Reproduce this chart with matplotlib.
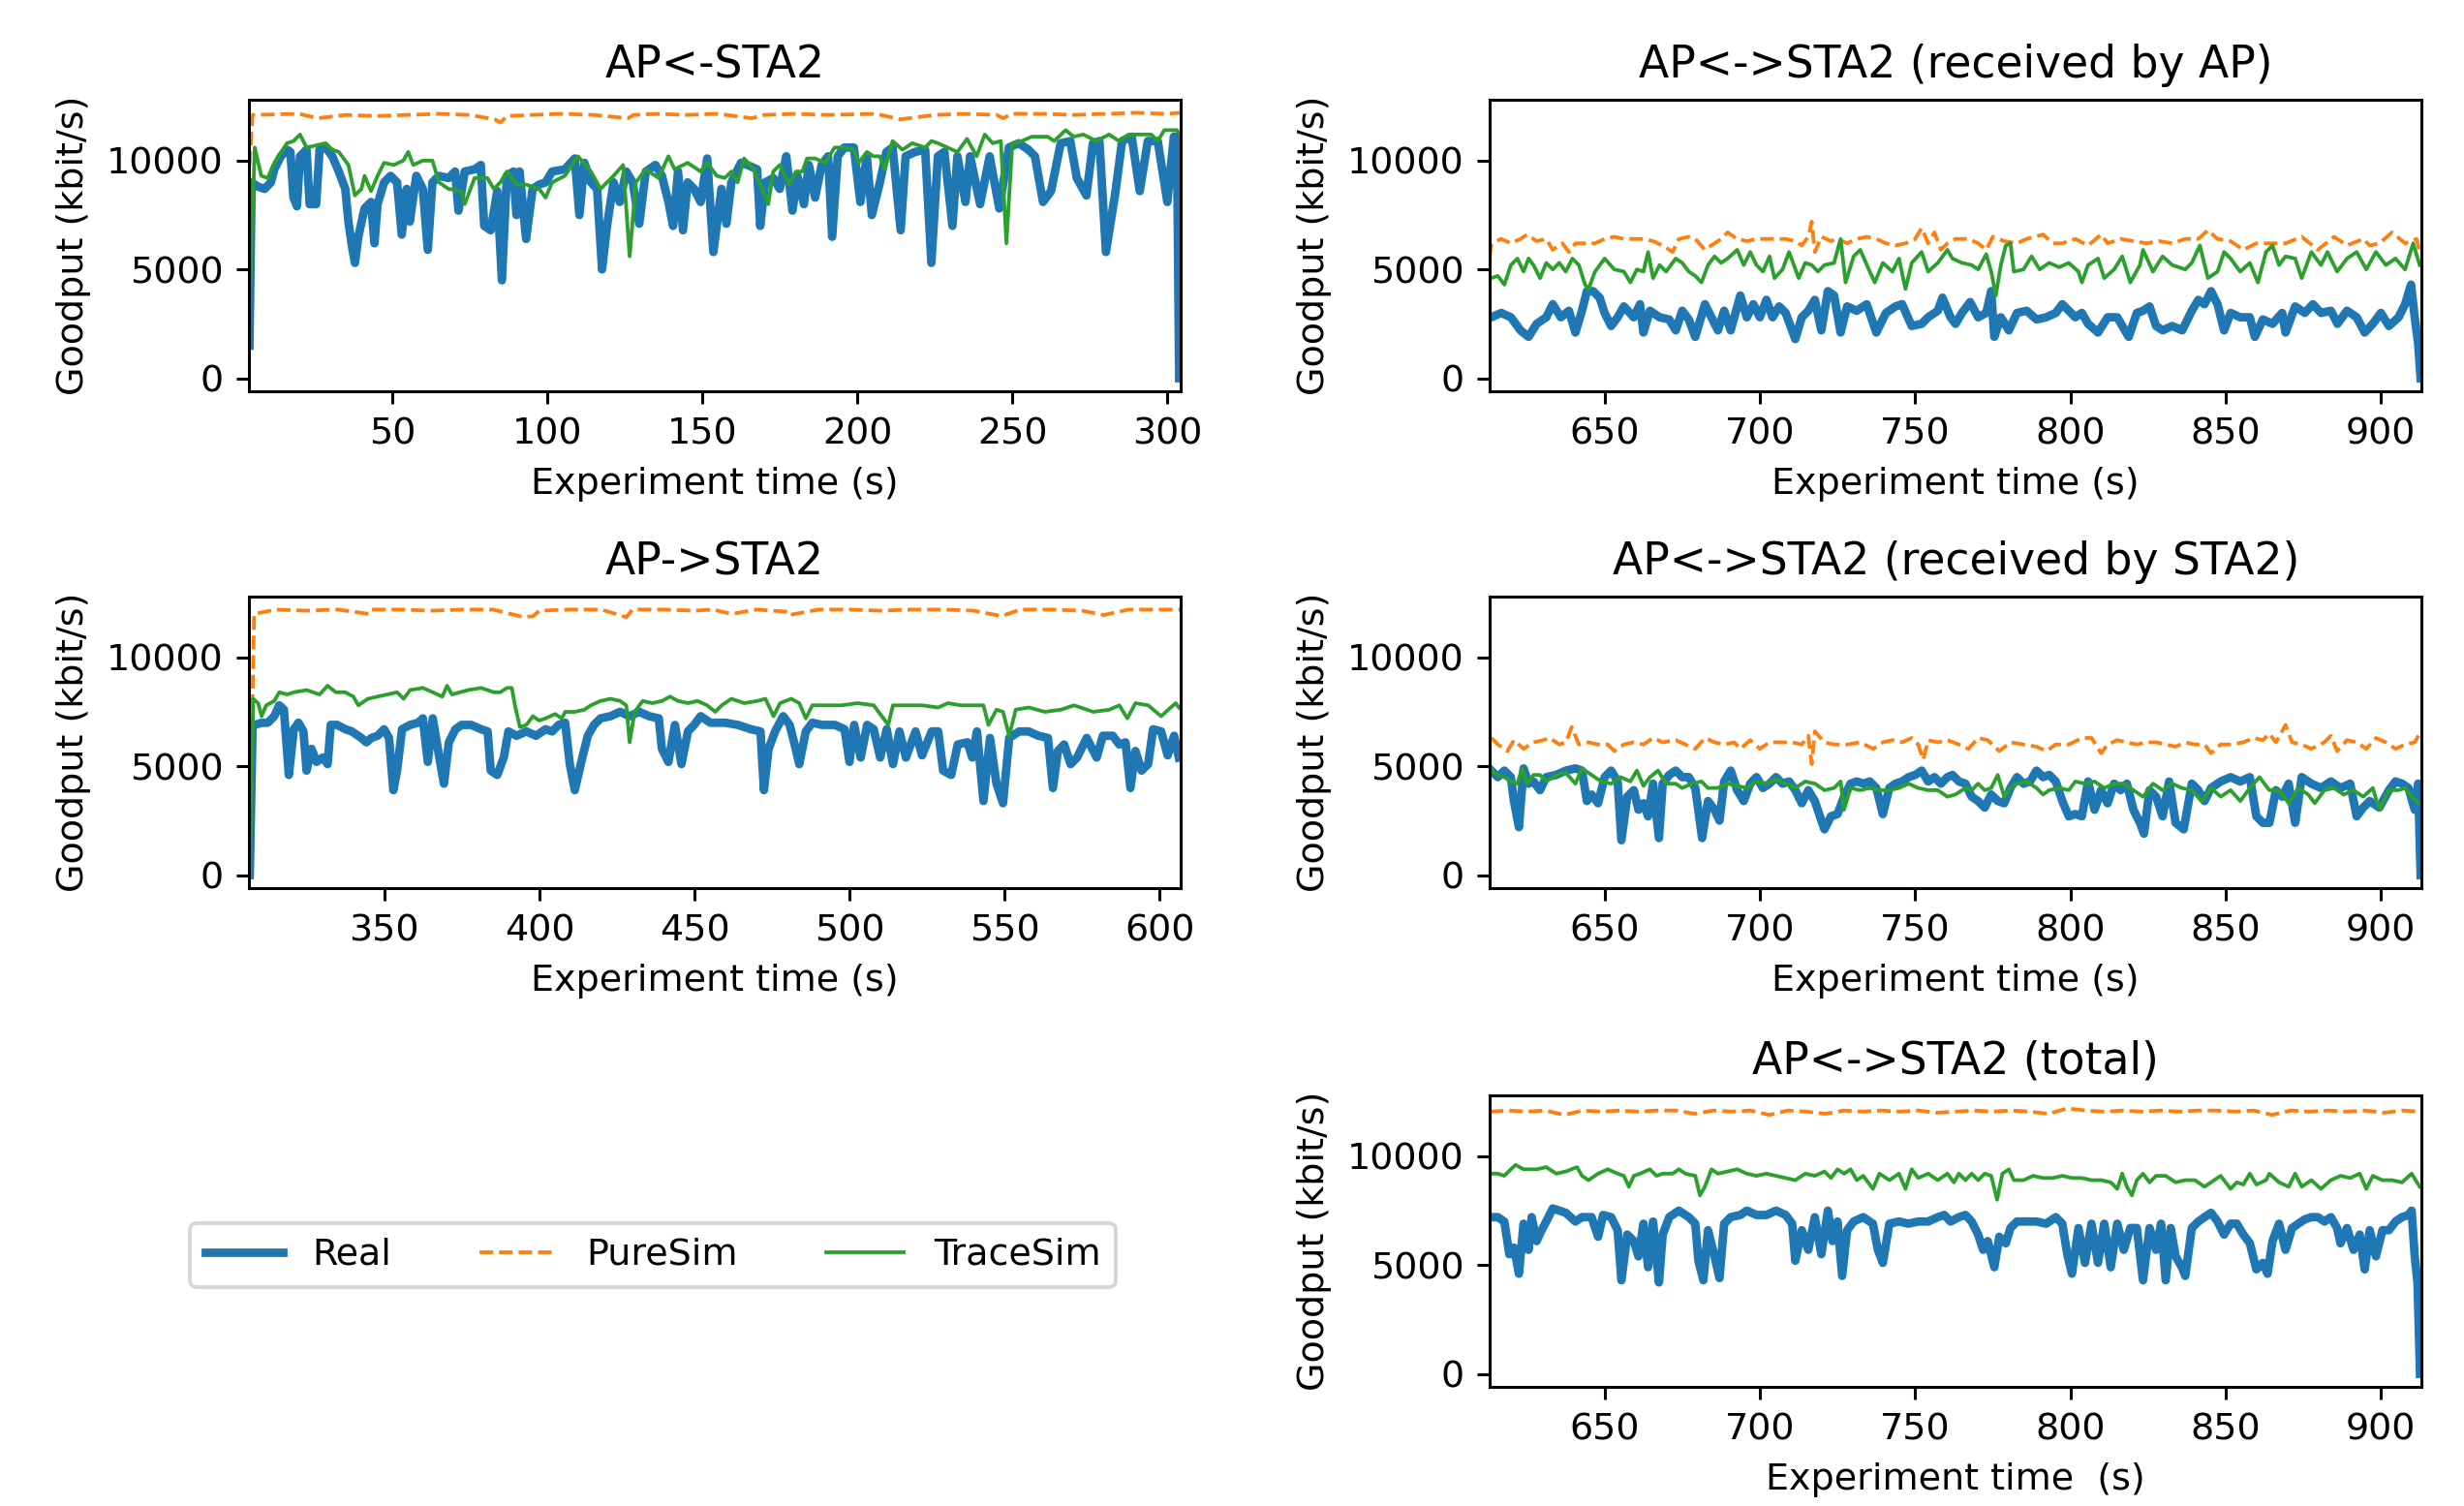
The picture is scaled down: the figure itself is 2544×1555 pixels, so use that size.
import matplotlib
matplotlib.use("Agg")
import matplotlib.pyplot as plt

# ---------------- data ----------------
# Panel 1: AP<-STA2
p1_real_t = [4.0, 4.7, 6.8, 8.9, 10.9, 12.0, 14.1, 16.1, 17.2, 18.2, 19.3, 20.3, 22.4, 23.4, 25.5, 26.6, 28.6, 30.7, 32.8,
             34.9, 35.9, 37.0, 38.0, 39.1, 41.1, 43.2, 44.3, 45.3, 47.4, 49.5, 51.6, 53.1, 54.7, 55.7, 57.8, 59.9, 61.5,
             63.0, 65.1, 68.2, 70.3, 71.4, 73.4, 76.6, 78.6, 79.7, 81.8, 83.9, 85.4, 87.0, 89.1, 90.1, 91.1, 93.2, 95.3,
             97.4, 99.5, 101.6, 105.7, 108.9, 110.4, 112.0, 114.1, 116.1, 117.7, 119.3, 121.4, 123.4, 125.5, 127.6, 129.7,
             131.8, 134.9, 137.0, 139.1, 140.6, 142.2, 143.8, 145.3, 147.4, 149.5, 151.6, 153.6, 156.2, 157.8, 159.4,
             162.5, 164.6, 167.7, 168.7, 170.3, 172.9, 175.0, 177.1, 179.1, 180.7, 182.8, 184.4, 186.4, 188.5, 190.6,
             191.9, 193.7, 195.8, 198.9, 201.0, 203.1, 204.7, 207.3, 209.4, 211.4, 214.0, 215.6, 218.7, 221.9, 223.9,
             226.0, 228.1, 230.7, 232.3, 234.9, 236.4, 239.6, 242.7, 245.8, 248.9, 252.1, 255.2, 257.3, 259.9, 262.5,
             265.6, 268.7, 270.8, 273.9, 276.0, 278.1, 280.2, 283.3, 285.4, 288.5, 291.1, 293.7, 296.9, 300.0, 302.1,
             303.1, 303.8]
p1_real_v = [1500, 9000, 8800, 8700, 9000, 9600, 10200, 10500, 10400, 8300, 7900, 10200, 10500, 8000, 8000, 10500, 10600,
             10200, 9500, 8700, 7200, 6100, 5300, 6500, 7800, 8100, 6200, 8000, 9000, 9300, 9000, 6600, 8700, 7200, 9300,
             8700, 5900, 9000, 9300, 9200, 9500, 7700, 9500, 9600, 9800, 7000, 6800, 8600, 4500, 9300, 9500, 7500, 9500,
             6400, 8700, 8900, 9000, 9500, 9600, 10100, 7500, 9900, 9000, 8700, 5000, 7000, 9000, 8100, 9500, 9000, 7100,
             9500, 9800, 9300, 8100, 7000, 9500, 6800, 9000, 8700, 8100, 10100, 5800, 8700, 7100, 9000, 9900, 9800, 9600,
             7000, 9000, 9200, 8700, 10200, 7700, 9300, 8000, 9800, 8300, 9800, 10200, 6500, 10200, 10600, 10600, 8100,
             10200, 7500, 9000, 10400, 10600, 6800, 10200, 10400, 10500, 5300, 10200, 10400, 7000, 10200, 8100, 10200,
             8000, 10200, 7800, 10600, 10800, 10500, 10200, 8100, 8600, 10800, 10900, 9200, 8400, 10800, 10900, 5800,
             8600, 10900, 11100, 8600, 10900, 10900, 8100, 11100, 11100, 0]

p1_pure_t = [4.0, 5.0, 20, 26, 35, 45, 55, 65, 75, 83, 85, 87, 95, 105, 115, 126, 128, 135, 145, 155, 166, 170, 180,
             190, 206, 214, 225, 235, 245, 247, 250, 260, 270, 280, 290, 300, 304]
p1_pure_v = [9800, 12100, 12150, 11950, 12100, 12050, 12100, 12150, 12100, 11900, 11750, 12050, 12100, 12150, 12100,
             11950, 12100, 12150, 12100, 12150, 11950, 12100, 12150, 12100, 12150, 11900, 12100, 12150, 12100, 11950,
             12150, 12150, 12100, 12150, 12200, 12150, 12200]

p1_trace_t = [3.9, 5.7, 7.8, 9.9, 12.0, 16.1, 18.2, 20.3, 22.4, 25.5, 28.6, 30.7, 32.8, 35.9, 38.0, 40.1, 41.1, 43.2,
              45.3, 47.4, 50.5, 53.6, 55.2, 56.8, 59.9, 63.0, 65.1, 68.2, 72.4, 73.4, 76.6, 80.7, 82.8, 84.9, 87.0, 90.1,
              93.2, 97.4, 99.5, 101.6, 105.7, 109.9, 114.1, 117.2, 121.4, 124.5, 126.6, 128.6, 131.8, 135.9, 139.1,
              141.1, 145.3, 149.5, 151.6, 154.7, 157.3, 159.4, 161.4, 163.5, 166.6, 168.7, 171.3, 172.9, 175.0, 178.1,
              180.2, 182.3, 183.8, 186.4, 189.6, 192.7, 195.8, 198.9, 200.5, 203.1, 205.2, 207.3, 208.8, 211.4, 214.6,
              217.7, 221.9, 223.9, 226.0, 229.1, 232.3, 235.4, 238.5, 241.1, 243.7, 246.3, 248.1, 250.0, 253.1, 256.2,
              259.4, 261.4, 263.5, 267.2, 269.8, 272.9, 277.1, 281.2, 284.4, 287.5, 291.6, 294.8, 296.9, 299.0, 303.1,
              304.0]
p1_trace_v = [2800, 10600, 9300, 9200, 9900, 10800, 10900, 11200, 10600, 10700, 10800, 10500, 10400, 9800, 8400, 8700,
              9300, 8600, 9300, 9900, 9800, 10000, 10400, 9800, 10000, 10000, 9000, 8700, 8600, 8000, 9200, 9200, 8700,
              9000, 9500, 8900, 8900, 8700, 8300, 9000, 9300, 10200, 9500, 8700, 9300, 9800, 5600, 9000, 9600, 9200,
              10200, 9600, 9900, 9500, 9900, 9300, 9200, 9500, 9000, 10100, 9600, 8900, 8000, 9500, 9800, 8900, 9500,
              9500, 10100, 10100, 9900, 10600, 10600, 10500, 9900, 10400, 10200, 10200, 9600, 10900, 10500, 10800,
              10600, 10900, 10800, 10600, 10400, 11000, 10200, 11200, 10800, 10900, 6200, 10800, 10900, 11100, 11100,
              11100, 10900, 11400, 11100, 11200, 10900, 11200, 10900, 11200, 11200, 11200, 10900, 11400, 11400, 11200]

# Panel 2: AP->STA2
p2_real_t = [306.6, 307.5, 308.3, 310.4, 312.4, 314.5, 316.1, 317.6, 319.2, 320.8, 322.3, 323.9, 324.9, 326.5, 328.1,
             330.1, 331.7, 332.7, 334.8, 337.4, 339.5, 342.6, 344.2, 345.8, 347.8, 349.9, 351.5, 352.9, 354.1, 355.7,
             358.3, 360.9, 362.4, 364.0, 365.6, 367.6, 369.2, 370.8, 372.9, 374.9, 378.0, 381.2, 383.3, 384.3, 386.4,
             388.5, 390.0, 392.6, 395.8, 398.9, 402.0, 404.1, 406.2, 408.3, 409.8, 411.4, 413.5, 415.6, 417.6, 419.7,
             422.9, 426.0, 429.1, 432.2, 435.4, 438.5, 439.5, 441.6, 443.7, 445.8, 447.9, 449.9, 452.0, 455.1, 459.9,
             464.0, 468.2, 471.3, 472.4, 473.9, 476.0, 478.6, 480.7, 482.3, 483.8, 485.9, 488.0, 491.1, 495.3, 498.4,
             500.0, 501.5, 503.6, 505.7, 507.8, 509.9, 512.0, 514.0, 516.1, 518.2, 521.3, 523.4, 526.5, 528.6, 530.2,
             532.8, 534.9, 538.0, 539.6, 541.1, 543.2, 545.3, 547.4, 549.5, 551.5, 554.7, 557.8, 560.9, 564.0, 565.6,
             567.2, 569.2, 571.3, 573.4, 576.5, 579.7, 581.7, 584.9, 587.0, 589.0, 590.6, 592.2, 594.2, 596.3, 597.9,
             600.5, 602.6, 604.7, 606.2]
p2_real_v = [0, 6900, 6900, 7000, 7000, 7300, 7800, 7600, 4600, 6700, 7000, 6600, 4800, 5800, 5200, 5400, 5100, 6900,
             6900, 6700, 6600, 6300, 6100, 6300, 6400, 6700, 6300, 3900, 4800, 6700, 6900, 7000, 7200, 5200, 7200, 5500,
             4200, 6100, 6700, 6900, 6900, 6700, 6600, 4800, 4600, 5400, 6600, 6400, 6600, 6400, 6700, 6600, 6900, 7000,
             5100, 3900, 5200, 6400, 6900, 7200, 7300, 7500, 7300, 7500, 7300, 7200, 5800, 5200, 6900, 5100, 6600, 6900,
             7300, 7000, 7000, 6900, 6700, 6600, 3900, 5800, 6600, 7300, 6900, 6000, 5100, 6600, 7000, 6900, 6900, 6700,
             5200, 6900, 5400, 6900, 6700, 5400, 6700, 5100, 6600, 5400, 6600, 5500, 6600, 6600, 4800, 4600, 6000, 6100,
             5400, 6600, 3400, 6300, 4200, 3300, 6300, 6600, 6600, 6400, 6300, 4000, 5700, 6000, 5100, 5400, 6300, 5400,
             6400, 6400, 6000, 6100, 4000, 5700, 4800, 5100, 6700, 6600, 5500, 6400, 5400]

p2_pure_t = [306.5, 308, 315, 325, 335, 345, 346, 355, 365, 375, 385, 395, 398, 400, 410, 420, 428, 430, 440, 450,
             456, 462, 470, 480, 480.5, 490, 500, 510, 520, 530, 540, 549, 555, 565, 575, 582, 590, 600, 607]
p2_pure_v = [500, 12000, 12200, 12150, 12200, 12000, 12200, 12200, 12150, 12200, 12200, 11850, 11900, 12150, 12200,
             12200, 11850, 12200, 12200, 12150, 12200, 12000, 12200, 12100, 11950, 12200, 12200, 12150, 12200, 12200,
             12150, 11900, 12200, 12200, 12150, 11950, 12200, 12200, 12200]

p2_trace_t = [306.6, 307.7, 309.3, 310.4, 311.9, 314.5, 316.1, 318.7, 320.8, 324.9, 327.0, 329.1, 331.7, 334.3, 337.4,
              340.0, 341.6, 344.7, 347.8, 351.0, 354.1, 356.2, 358.3, 362.4, 365.6, 368.7, 370.2, 371.8, 377.0, 381.2,
              385.3, 387.4, 389.5, 391.1, 392.1, 393.7, 395.8, 397.9, 399.9, 402.0, 405.1, 407.2, 408.3, 411.4, 414.5,
              416.6, 419.7, 422.9, 426.0, 428.0, 429.1, 430.7, 433.3, 436.4, 439.5, 442.1, 444.7, 447.9, 451.0, 454.1,
              456.7, 458.8, 461.9, 466.1, 470.3, 472.9, 475.5, 477.6, 481.2, 483.8, 485.9, 488.0, 492.2, 497.4, 502.6,
              507.8, 512.5, 514.0, 518.2, 523.4, 528.6, 531.7, 535.9, 539.0, 543.2, 544.8, 547.4, 549.5, 551.5, 553.6,
              557.8, 563.0, 568.2, 572.4, 578.6, 583.8, 587.0, 589.6, 592.2, 596.3, 600.5, 603.6, 605.2, 606.2]
p2_trace_v = [0, 8100, 7900, 7300, 7800, 8000, 8400, 8300, 8400, 8500, 8400, 8300, 8700, 8400, 8400, 8200, 7800, 8100,
              8200, 8300, 8400, 8100, 8500, 8600, 8400, 8200, 8700, 8300, 8500, 8600, 8400, 8400, 8600, 8600, 7800,
              6800, 6900, 7300, 7100, 7200, 7400, 7200, 7500, 7500, 7600, 7800, 8000, 8100, 8000, 7800, 6100, 7500,
              8000, 7900, 8000, 8200, 8000, 7900, 8000, 7800, 7500, 7800, 8100, 7900, 8000, 8100, 7300, 7900, 8100,
              7900, 7200, 7800, 7800, 7800, 7900, 7800, 6900, 7800, 7800, 7800, 7700, 7900, 7800, 7800, 7800, 6900,
              7600, 7500, 6400, 7600, 7700, 7500, 7600, 7800, 7500, 7600, 7800, 7200, 7900, 7800, 7300, 7700, 7900,
              7700]

# Panel 3: AP<->STA2 (received by AP)
p3_real_t = [613.5, 616.7, 619.8, 622.9, 625.5, 628.1, 631.2, 633.3, 635.9, 638.5, 640.6, 642.7, 644.3, 646.3, 648.4,
             650.0, 652.1, 654.2, 656.2, 659.4, 661.4, 662.5, 664.6, 667.7, 670.8, 672.9, 675.0, 677.1, 679.2, 682.3,
             684.4, 686.5, 688.5, 690.6, 693.7, 695.8, 697.9, 700.0, 702.1, 704.1, 706.2, 708.3, 711.4, 713.5, 715.6,
             717.7, 719.8, 721.9, 723.9, 726.0, 728.1, 731.2, 734.4, 737.5, 740.6, 743.7, 745.8, 748.9, 752.1, 754.2,
             757.3, 758.8, 761.4, 763.0, 765.1, 767.7, 770.3, 772.9, 774.5, 775.5, 777.6, 780.2, 782.8, 785.9, 789.1,
             792.2, 795.3, 797.4, 799.5, 801.6, 803.7, 805.7, 808.9, 812.0, 815.1, 818.8, 821.4, 823.4, 825.5, 827.6,
             829.7, 832.8, 836.0, 839.1, 841.2, 843.2, 845.3, 847.4, 849.5, 851.6, 854.7, 857.8, 859.4, 862.0, 865.1,
             868.2, 869.3, 872.4, 875.5, 878.1, 880.7, 883.9, 886.0, 889.1, 892.2, 894.8, 897.4, 900.0, 902.6, 905.7,
             907.8, 909.7, 910.9, 912.0, 912.8]
p3_real_v = [2800, 3000, 2800, 2200, 1900, 2500, 2800, 3400, 2800, 3100, 2100, 3100, 4000, 4000, 3700, 3000, 2400, 2800,
             3300, 2800, 3400, 2100, 3100, 2800, 2700, 2200, 3100, 2700, 1900, 3400, 2800, 2200, 3100, 2200, 3800, 2800,
             3400, 2800, 3600, 2800, 3300, 3000, 1800, 2800, 3100, 3600, 2200, 4000, 3800, 2100, 3300, 3100, 3400, 2100,
             3000, 3300, 3400, 2400, 2500, 2800, 3100, 3700, 2800, 2500, 3000, 3500, 2800, 3000, 4000, 1900, 2800, 2200,
             3000, 3100, 2700, 2800, 3000, 3400, 3100, 2800, 3000, 2500, 2100, 2800, 2800, 1900, 3000, 3100, 3300, 2400,
             2200, 2400, 2200, 3100, 3600, 3400, 4000, 3400, 2200, 3000, 2800, 2800, 1900, 2700, 2500, 3000, 2100, 3300,
             3000, 3400, 3000, 3100, 2500, 3100, 2800, 2100, 2500, 3000, 2400, 2800, 3400, 4300, 2800, 1600, 0]

p3_pure_t = [613.0, 613.5, 616.7, 619.8, 622.9, 625.0, 628.1, 631.2, 633.3, 636.4, 638.5, 640.6, 643.7, 646.9, 650.0,
             653.1, 656.2, 659.4, 662.5, 665.6, 668.7, 671.9, 673.9, 677.1, 679.2, 682.3, 685.4, 687.5, 689.6, 692.7,
             695.8, 698.9, 702.1, 705.2, 708.3, 711.4, 713.5, 715.6, 716.7, 717.7, 719.8, 722.9, 725.0, 728.1, 731.2,
             734.4, 737.5, 740.6, 743.7, 746.9, 750.0, 752.1, 754.2, 756.2, 758.3, 760.4, 763.0, 767.2, 770.3, 772.9,
             775.0, 778.7, 782.8, 785.9, 791.2, 794.3, 797.4, 801.6, 805.7, 809.9, 812.0, 816.2, 820.3, 824.5, 828.7,
             832.8, 837.0, 841.2, 844.3, 847.4, 851.6, 855.7, 859.9, 864.1, 869.3, 874.5, 879.7, 884.9, 889.1, 894.3,
             896.4, 899.5, 903.6, 907.8, 911.5, 912.5]
p3_pure_v = [5600, 6200, 6400, 6200, 6400, 6600, 6300, 6400, 5900, 6200, 5800, 6200, 6200, 6200, 6400, 6500, 6400, 6400,
             6400, 6300, 6100, 5800, 6400, 6500, 6400, 5900, 6200, 6400, 6700, 6400, 6300, 6400, 6400, 6400, 6400, 6300,
             6100, 6500, 7200, 5800, 6500, 6300, 6400, 6200, 6400, 6500, 6400, 6200, 6100, 6200, 6400, 6900, 6200, 6700,
             5900, 6200, 6400, 6400, 6200, 5900, 6500, 6300, 6200, 6400, 6600, 6200, 6200, 6400, 6100, 6600, 6200, 6400,
             6300, 6200, 6300, 6200, 6400, 6400, 6800, 6400, 6300, 5900, 6200, 6200, 6200, 6500, 5900, 6500, 6100, 6400,
             6100, 6200, 6700, 6200, 6400, 5800]

p3_trace_t = [613.5, 615.6, 617.7, 619.8, 621.9, 623.9, 625.5, 627.1, 629.2, 631.2, 633.3, 635.4, 637.5, 639.6, 641.7,
              643.7, 644.8, 646.9, 650.0, 653.1, 656.2, 658.3, 660.4, 662.5, 664.0, 665.6, 667.7, 669.8, 672.9, 675.0,
              677.1, 679.2, 681.2, 683.3, 685.4, 687.5, 689.6, 692.7, 694.8, 696.9, 698.9, 701.0, 703.1, 704.7, 707.3,
              709.4, 712.5, 714.6, 716.7, 718.7, 720.8, 723.9, 726.0, 727.6, 730.2, 732.3, 735.4, 737.0, 739.6, 742.7,
              744.8, 746.9, 748.9, 752.1, 754.2, 757.3, 760.4, 762.0, 765.1, 768.2, 770.3, 772.9, 774.5, 776.0, 777.6,
              779.2, 780.7, 781.8, 784.9, 787.5, 790.1, 793.2, 796.4, 799.5, 802.6, 803.7, 805.7, 808.9, 810.9, 814.1,
              816.7, 819.3, 822.4, 823.4, 826.6, 829.7, 832.8, 837.0, 839.1, 841.7, 844.3, 847.4, 849.5, 851.6, 854.7,
              857.8, 860.4, 863.0, 865.1, 867.2, 869.3, 872.4, 874.5, 877.6, 880.7, 882.8, 885.9, 889.1, 892.2, 895.3,
              898.4, 901.6, 904.7, 907.8, 910.4, 912.5]
p3_trace_v = [4600, 4700, 4300, 5200, 5500, 4900, 5500, 5200, 4600, 5300, 5000, 5300, 4900, 5500, 5200, 4300, 4100, 4900,
              5500, 5000, 4900, 4400, 5000, 4900, 5800, 4600, 5200, 4900, 5500, 5300, 4900, 4700, 4400, 5200, 5600, 5300,
              5500, 5900, 5200, 5800, 5200, 4900, 5600, 4600, 5000, 5800, 4600, 5300, 5200, 4900, 5200, 5300, 6400, 4400,
              5600, 5900, 4900, 4400, 5300, 4900, 5500, 4100, 5300, 5800, 4900, 5300, 5900, 5500, 5300, 5200, 5000, 5700,
              4900, 3800, 5200, 6100, 6200, 4900, 5000, 5600, 5000, 5300, 5100, 5300, 4900, 4400, 5200, 5500, 4600, 5000,
              5600, 4400, 5200, 5900, 4900, 5600, 5200, 5000, 5300, 6100, 4600, 4900, 5800, 5500, 4900, 5300, 4400, 5800,
              6100, 5200, 5600, 5500, 4600, 5800, 5200, 5800, 4900, 5500, 5800, 5000, 5800, 5200, 5500, 5000, 6200, 5200]

# Panel 4: AP<->STA2 (received by STA2)
p4_real_t = [613.5, 615.6, 617.7, 619.8, 620.8, 622.4, 623.9, 625.5, 627.1, 629.2, 631.2, 634.4, 637.5, 640.6, 642.7,
             644.3, 645.8, 647.9, 650.0, 652.1, 654.2, 655.4, 657.3, 659.4, 660.9, 662.5, 664.0, 665.6, 667.5, 668.7,
             670.8, 672.9, 675.0, 677.1, 679.2, 681.4, 683.3, 685.4, 687.0, 688.5, 690.6, 692.7, 694.8, 696.9, 698.9,
             701.0, 703.1, 705.2, 707.3, 709.4, 711.4, 713.5, 715.6, 717.7, 719.8, 720.8, 722.9, 725.0, 727.1, 729.2,
             731.2, 733.3, 735.4, 737.5, 739.6, 741.7, 743.7, 745.8, 747.9, 750.0, 752.1, 754.2, 756.2, 758.3, 760.4,
             762.0, 764.1, 766.2, 768.2, 770.3, 772.4, 774.5, 776.6, 778.7, 780.7, 782.8, 784.9, 787.0, 789.1, 791.2,
             793.2, 795.3, 797.4, 799.5, 801.6, 803.7, 805.7, 807.8, 809.9, 812.0, 814.1, 816.2, 818.2, 820.3, 822.4,
             823.7, 825.5, 827.6, 829.7, 831.8, 833.9, 836.5, 839.1, 841.2, 843.2, 845.3, 848.4, 851.6, 854.7, 857.8,
             859.9, 862.0, 864.1, 866.2, 868.2, 870.3, 872.4, 874.5, 877.6, 880.7, 883.9, 887.0, 890.1, 892.2, 894.3,
             896.4, 899.5, 902.6, 904.7, 906.8, 908.9, 910.9, 912.0, 912.8]
p4_real_v = [4800, 4500, 4800, 4500, 3400, 2200, 4900, 4200, 4300, 3900, 4500, 4600, 4800, 4900, 4800, 3400, 3700, 3300,
             4500, 4800, 4300, 1600, 3600, 3900, 3000, 3300, 2700, 4200, 1700, 4200, 4600, 4800, 4500, 4500, 4000, 1700,
             3400, 3000, 2500, 4300, 4800, 3900, 3400, 4200, 4500, 4000, 4200, 4500, 4200, 4300, 3900, 3300, 3900, 3400,
             2500, 2100, 2700, 2800, 3600, 4200, 4300, 4200, 4300, 4000, 2800, 4000, 4200, 4300, 4500, 4600, 4800, 4300,
             4500, 4200, 4500, 4600, 4300, 4200, 3600, 3400, 3100, 3700, 3400, 3300, 4000, 4500, 4200, 4300, 4800, 4500,
             4600, 4300, 3400, 2700, 2800, 2700, 4300, 3000, 3900, 3300, 4200, 3900, 4200, 3000, 2400, 1900, 3900, 3600,
             2700, 4300, 2400, 2100, 4200, 3900, 3400, 4000, 4300, 4500, 4300, 4500, 2700, 2400, 2400, 3900, 3600, 4200,
             2400, 4500, 4200, 4000, 4300, 4000, 4200, 2700, 3100, 3400, 3100, 3900, 4300, 4200, 4000, 3000, 4200, 0]

p4_pure_t = [613.5, 615.6, 618.7, 620.8, 623.9, 627.1, 630.2, 632.3, 635.4, 637.5, 639.4, 641.7, 644.8, 647.9, 651.0,
             653.1, 656.2, 659.4, 662.5, 665.6, 668.7, 672.9, 676.0, 679.2, 682.3, 685.4, 688.5, 691.7, 693.7, 696.9,
             700.0, 703.1, 706.2, 710.4, 713.5, 715.6, 716.7, 717.7, 720.8, 723.9, 728.1, 732.3, 736.5, 739.6, 742.7,
             745.8, 748.9, 751.0, 752.6, 754.2, 757.3, 760.4, 764.1, 767.2, 770.3, 773.4, 777.1, 780.7, 784.9, 789.1,
             792.2, 795.3, 799.5, 803.7, 806.8, 809.9, 812.0, 815.1, 818.2, 821.4, 824.5, 827.6, 830.7, 833.9, 837.0,
             840.1, 843.2, 845.3, 848.4, 851.6, 855.7, 858.9, 862.0, 864.1, 866.2, 869.3, 871.4, 874.5, 877.6, 881.8,
             883.9, 885.9, 889.1, 892.2, 895.3, 898.4, 901.6, 904.7, 907.8, 910.9, 912.5]
p4_pure_v = [6300, 6000, 5700, 6200, 5800, 6100, 6200, 6300, 6000, 6100, 6800, 6000, 6100, 6000, 6000, 5700, 6000, 6100,
             6000, 6300, 6100, 6200, 6000, 5800, 6300, 6100, 6000, 6100, 5800, 6200, 5800, 6100, 6100, 6100, 6000, 6400,
             5100, 6600, 6100, 6000, 6000, 6100, 5800, 6100, 6200, 6100, 6300, 6000, 5300, 6200, 6100, 6200, 6000, 5800,
             6300, 6200, 5700, 6100, 6000, 5900, 5700, 6000, 6000, 6300, 6300, 5600, 6000, 6200, 6100, 6000, 6100, 6100,
             6000, 5900, 6100, 6000, 6000, 5600, 6000, 6000, 6100, 6300, 6200, 6500, 6100, 6900, 6100, 6000, 5800, 6100,
             6400, 5700, 6200, 6100, 5800, 6300, 6100, 5800, 6000, 6100, 6500]

p4_trace_t = [613.5, 615.6, 617.7, 619.8, 621.9, 623.4, 625.0, 627.1, 629.2, 631.2, 634.4, 637.5, 640.6, 642.7, 645.8,
              648.9, 652.1, 655.2, 658.3, 660.4, 662.5, 664.6, 667.2, 669.8, 672.9, 675.0, 678.1, 681.2, 683.3, 686.4,
              689.6, 692.7, 695.8, 698.9, 702.1, 705.2, 708.3, 711.4, 714.6, 717.7, 720.8, 723.9, 726.0, 727.1, 729.2,
              732.3, 735.4, 738.5, 741.7, 744.8, 747.9, 751.0, 754.2, 757.3, 760.4, 763.0, 766.2, 768.2, 770.3, 772.4,
              774.5, 776.6, 778.7, 780.7, 782.8, 785.9, 789.1, 791.2, 793.2, 796.4, 799.5, 801.6, 804.7, 807.8, 810.9,
              814.1, 817.2, 820.3, 823.4, 826.6, 829.7, 832.8, 835.9, 839.1, 842.2, 845.3, 848.4, 851.6, 854.7, 857.8,
              860.9, 864.1, 867.2, 870.3, 873.4, 876.6, 878.7, 881.8, 884.9, 888.0, 891.2, 894.3, 897.4, 899.5, 902.6,
              905.7, 907.8, 909.9, 912.0]
p4_trace_v = [4800, 4600, 4500, 4300, 4200, 4900, 4200, 4600, 4600, 4300, 4600, 4700, 4200, 4900, 4600, 4300, 4200, 4500,
              4300, 4800, 4100, 4500, 4800, 4200, 4200, 4000, 4200, 4300, 4000, 4000, 4200, 4100, 4000, 4300, 4200, 4400,
              4200, 4000, 4300, 4200, 3900, 4000, 4300, 3000, 4000, 3900, 4000, 3900, 3900, 4000, 4200, 4000, 3900, 3900,
              3600, 3700, 4000, 3900, 4200, 3900, 4000, 4600, 3600, 4000, 4200, 4300, 4000, 3700, 3900, 4000, 3900, 4300,
              4200, 4300, 4000, 4200, 4200, 3900, 3600, 4200, 3900, 4200, 4000, 3900, 3400, 4000, 3600, 3900, 3400, 4000,
              4500, 3900, 3900, 3300, 4000, 3700, 3300, 3900, 4000, 3700, 3900, 3600, 4000, 3000, 3900, 3900, 4000, 3600,
              3300]

# Panel 5: AP<->STA2 (total)
p5_real_t = [613.5, 615.6, 617.7, 619.3, 620.8, 622.4, 623.9, 625.5, 626.5, 628.1, 629.7, 631.2, 633.3, 635.4, 637.5,
             640.6, 642.7, 645.8, 647.9, 649.5, 652.1, 654.2, 655.4, 657.3, 659.4, 660.9, 662.5, 664.0, 665.6, 667.5,
             668.7, 670.8, 673.9, 677.1, 679.2, 680.2, 681.8, 683.3, 685.4, 687.0, 688.5, 690.6, 693.7, 695.8, 698.9,
             702.1, 705.2, 708.3, 710.4, 711.4, 713.5, 715.6, 717.7, 719.8, 721.9, 723.4, 725.0, 726.5, 728.1, 730.2,
             733.3, 736.4, 738.0, 739.6, 741.7, 744.8, 747.9, 751.0, 754.2, 757.3, 759.4, 761.4, 764.1, 766.2, 768.2,
             770.3, 771.9, 773.4, 775.5, 777.1, 779.2, 780.7, 782.8, 785.9, 789.1, 792.2, 795.3, 797.4, 799.0, 800.5,
             802.6, 804.7, 806.8, 808.9, 810.9, 813.0, 815.1, 817.2, 819.3, 821.4, 823.4, 825.5, 827.6, 829.2, 830.7,
             832.3, 833.9, 835.9, 837.0, 839.1, 841.2, 843.2, 845.3, 847.4, 849.5, 851.6, 853.6, 855.7, 857.8, 859.9,
             862.0, 863.5, 865.1, 867.2, 869.3, 871.4, 873.4, 875.5, 877.6, 879.7, 881.8, 883.9, 885.9, 887.0, 889.1,
             891.2, 893.2, 894.8, 896.4, 898.4, 900.5, 902.6, 904.7, 906.8, 908.9, 909.9, 910.9, 911.8, 912.6]
p5_real_v = [7200, 7200, 7000, 5500, 5800, 4600, 6900, 5700, 7200, 6100, 6600, 7000, 7600, 7500, 7400, 7000, 7200, 7200,
             6300, 7300, 7200, 6600, 4300, 6400, 6100, 5400, 6900, 4900, 7000, 4200, 6400, 7200, 7500, 7200, 6900, 5200,
             4300, 6600, 5400, 4400, 6900, 7200, 7300, 7500, 7300, 7300, 7500, 7300, 6900, 5200, 6600, 5700, 7200, 5500,
             7500, 6100, 7000, 4500, 6600, 7000, 7200, 6900, 5700, 5100, 6900, 7000, 6900, 7000, 7000, 7200, 7300, 7000,
             7200, 7300, 7000, 6400, 5700, 6100, 4900, 6300, 6000, 6700, 7000, 7000, 7000, 6900, 7200, 6900, 5500, 4600,
             6700, 5100, 6900, 5100, 6900, 4900, 6900, 5700, 6700, 6700, 4300, 6700, 5700, 6900, 4300, 6700, 5400, 4900,
             4500, 6700, 7000, 7200, 7400, 7000, 6400, 6900, 6900, 6400, 6000, 4800, 5100, 4600, 6100, 6900, 5700, 6700,
             6900, 7100, 7200, 7200, 7000, 7200, 6700, 6000, 6700, 5700, 6400, 4800, 6600, 5400, 6600, 6600, 7000, 7200,
             7300, 7500, 5400, 4200, 0]

p5_pure_t = [613, 619, 625, 631, 637, 643, 649, 655, 661, 667, 673, 679, 685, 691, 697, 703, 709, 715, 721, 727, 733,
             739, 745, 751, 757, 763, 769, 775, 781, 787, 793, 799, 805, 811, 817, 823, 829, 835, 841, 847, 853, 859,
             865, 871, 877, 883, 889, 895, 901, 907, 913]
p5_pure_v = [12050, 12100, 12050, 12100, 11900, 12100, 12050, 12100, 12050, 12100, 12100, 11950, 12100, 12050, 12100,
             11900, 12100, 12050, 11950, 12100, 12050, 12100, 12050, 12100, 12000, 12050, 12100, 12050, 12100, 12050,
             11950, 12200, 12100, 12050, 12100, 12050, 12100, 12050, 12100, 12100, 12050, 12100, 11900, 12100, 12050,
             12100, 12050, 12100, 12000, 12100, 12050]

p5_trace_t = [613.5, 615.6, 617.7, 619.8, 621.3, 623.9, 626.0, 628.1, 631.2, 634.4, 637.5, 641.1, 642.7, 644.8, 647.9,
              651.0, 654.2, 656.2, 657.8, 659.4, 661.4, 664.6, 666.7, 668.7, 671.9, 673.9, 676.0, 679.2, 680.7, 682.3,
              684.4, 686.5, 689.6, 692.7, 695.8, 698.9, 702.1, 705.2, 708.3, 711.4, 714.6, 717.7, 720.8, 722.9, 725.0,
              727.1, 729.2, 731.2, 733.3, 736.4, 738.5, 741.7, 744.8, 746.9, 748.9, 751.0, 754.2, 757.3, 760.4, 762.5,
              764.1, 766.2, 768.2, 770.3, 772.4, 774.5, 776.4, 778.1, 780.2, 781.8, 784.9, 788.0, 791.2, 794.3, 797.4,
              800.5, 803.7, 806.8, 809.9, 813.0, 815.1, 816.7, 818.2, 819.8, 821.4, 823.4, 825.5, 827.6, 830.7, 833.9,
              837.0, 840.1, 843.2, 846.3, 848.4, 851.6, 853.6, 855.7, 857.8, 859.9, 863.0, 864.1, 867.2, 870.3, 872.4,
              874.5, 877.6, 880.7, 883.9, 887.0, 890.1, 893.2, 895.3, 897.4, 900.5, 903.6, 906.8, 909.9, 912.5]
p5_trace_v = [9200, 9200, 9100, 9400, 9600, 9400, 9400, 9400, 9500, 9200, 9300, 9500, 9100, 8900, 9200, 9400, 9200, 9100,
              8600, 9100, 9200, 9400, 9100, 9200, 9200, 9400, 9200, 9100, 8200, 8600, 9400, 9200, 9300, 9400, 9200, 9100,
              9200, 9100, 9000, 8900, 9200, 9100, 9300, 9000, 9400, 9200, 9400, 8900, 9100, 8500, 9200, 8900, 9200, 8500,
              9400, 9000, 9200, 8900, 9200, 8800, 9200, 8900, 9200, 8900, 9200, 9100, 8000, 9200, 9400, 8900, 8900, 9100,
              9000, 9000, 9100, 9000, 9000, 8900, 8900, 8800, 8500, 9200, 8600, 8200, 8900, 9200, 8800, 9100, 9100, 8800,
              8900, 8900, 8600, 8900, 9100, 8500, 8800, 8700, 9200, 8700, 8900, 9200, 8800, 8600, 9200, 8600, 8900, 8500,
              8900, 9100, 9000, 9200, 8500, 9100, 8900, 8900, 8800, 9200, 8600]

titles = ["AP<-STA2", "AP->STA2", "AP<->STA2 (received by AP)", "AP<->STA2 (received by STA2)", "AP<->STA2 (total)"]
series_labels = ["Real", "PureSim", "TraceSim"]
yticks = [0, 5000, 10000]

# ---------------- figure ----------------
DPI = 274
fig = plt.figure(figsize=(2544 / DPI, 1555 / DPI), dpi=DPI)

colL, colR, W = 0.1010, 0.6046, 0.3783
H = 0.1936
rows = [0.7402, 0.4103, 0.0791]

panels = [
    ((colL, rows[0]), (p1_real_t, p1_real_v), (p1_pure_t, p1_pure_v), (p1_trace_t, p1_trace_v), (3.8, 304.4), "Experiment time (s)"),
    ((colL, rows[1]), (p2_real_t, p2_real_v), (p2_pure_t, p2_pure_v), (p2_trace_t, p2_trace_v), (306.3, 606.9), "Experiment time (s)"),
    ((colR, rows[0]), (p3_real_t, p3_real_v), (p3_pure_t, p3_pure_v), (p3_trace_t, p3_trace_v), (613.0, 913.2), "Experiment time (s)"),
    ((colR, rows[1]), (p4_real_t, p4_real_v), (p4_pure_t, p4_pure_v), (p4_trace_t, p4_trace_v), (613.0, 913.2), "Experiment time (s)"),
    ((colR, rows[2]), (p5_real_t, p5_real_v), (p5_pure_t, p5_pure_v), (p5_trace_t, p5_trace_v), (613.0, 913.2), "Experiment time  (s)"),
]

handles = None
for i, (pos, real, pure, trace, xl, xlab) in enumerate(panels):
    ax = fig.add_axes([pos[0], pos[1], W, H])
    h1, = ax.plot(real[0], real[1], color="#1f77b4", lw=2.3, label="Real")
    h2, = ax.plot(pure[0], pure[1], color="#ff7f0e", lw=1.0, ls="--", label="PureSim")
    h3, = ax.plot(trace[0], trace[1], color="#2ca02c", lw=1.0, label="TraceSim")
    if handles is None:
        handles = [h1, h2, h3]
    ax.set_xlim(*xl)
    ax.set_ylim(-600, 12800)
    ax.set_yticks(yticks)
    ax.set_title(titles[i], fontsize=12)
    ax.set_xlabel(xlab, fontsize=10)
    ax.set_ylabel("Goodput (kbit/s)", fontsize=10)
    ax.tick_params(labelsize=10)

fig.legend(handles, series_labels, loc="center", bbox_to_anchor=(674 / 2544, 1 - 1296 / 1555),
           ncol=3, fontsize=10, frameon=True, columnspacing=2.4, handlelength=2.1)

fig.savefig("out.png", dpi=DPI)
